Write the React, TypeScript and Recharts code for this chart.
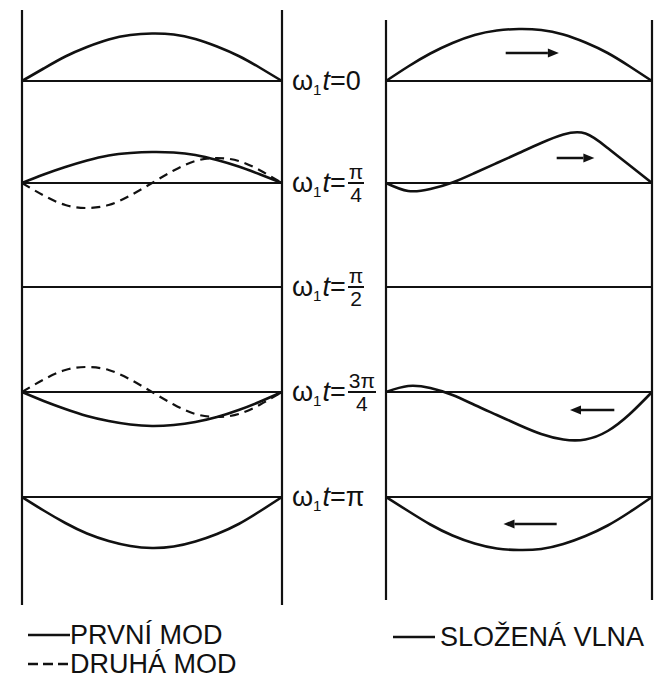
import { LineChart, Line, XAxis, YAxis, ReferenceLine } from 'recharts'

// positions along the string (0 .. 12 twelfths)
const stations = [0, 1, 2, 3, 4, 5, 6, 7, 8, 9, 10, 11, 12]

// phase labels w1 t = top / bottom
const phaseTop = ['0', 'π', 'π', '3π', 'π']
const phaseBottom = ['', '4', '2', '4', '']

// first mode (solid, left)
const first0 = [0, 0.25, 0.49, 0.68, 0.83, 0.92, 0.95, 0.93, 0.84, 0.69, 0.5, 0.26, 0]
const first1 = [0, 0.17, 0.32, 0.45, 0.55, 0.6, 0.62, 0.61, 0.56, 0.46, 0.33, 0.17, 0]
const first3 = [0, -0.18, -0.34, -0.48, -0.58, -0.65, -0.68, -0.66, -0.6, -0.5, -0.36, -0.19, 0]
const first4 = [0, -0.27, -0.52, -0.73, -0.88, -0.98, -1.02, -0.99, -0.89, -0.74, -0.54, -0.28, 0]

// second mode (dashed, left)
const second1 = [0, -0.25, -0.44, -0.5, -0.44, -0.25, 0, 0.25, 0.44, 0.5, 0.44, 0.25, 0]
const second3 = [0, 0.25, 0.44, 0.5, 0.44, 0.25, 0, -0.25, -0.44, -0.5, -0.44, -0.25, 0]

// composite wave (right)
const sum0 = [0, 0.29, 0.55, 0.76, 0.92, 1.01, 1.04, 1.02, 0.93, 0.77, 0.56, 0.29, 0]
const sum1 = [0, -0.16, -0.12, 0.01, 0.2, 0.4, 0.6, 0.8, 0.97, 0.99, 0.7, 0.35, 0]
const sum3 = [0, 0.12, 0.08, -0.06, -0.26, -0.46, -0.66, -0.84, -0.95, -0.95, -0.78, -0.44, 0]
const sum4 = [0, -0.28, -0.55, -0.77, -0.93, -1.03, -1.06, -1.04, -0.94, -0.78, -0.57, -0.3, 0]

// direction arrows on the composite wave: row, from, to (stations), height
const arrowRow = [0, 1, 3, 4]
const arrowFrom = [5.4, 7.7, 10.3, 7.7]
const arrowTo = [7.8, 9.4, 8.3, 5.3]
const arrowLevel = [0.56, 0.5, -0.36, -0.54]

// layout
const UNIT = 50
const rowBaseY = [81, 183, 287, 392, 497]
const INK = '#111'

const leftData = stations.map((s, i) => ({
  s, m0: first0[i], m1: first1[i], m3: first3[i], m4: first4[i], d1: second1[i], d3: second3[i]
}))
const rightData = stations.map((s, i) => ({
  s, c0: sum0[i], c1: sum1[i], c3: sum3[i], c4: sum4[i]
}))

const Arrow = (props: any) => {
  const { x1, y1, x2, y2 } = props
  const dir = Math.sign(x2 - x1)
  const back = x2 - dir * 11
  return (
    <g>
      <line x1={x1} y1={y1} x2={back} y2={y2} stroke={INK} strokeWidth={2.5} />
      <polygon points={`${x2},${y2} ${back},${y2 - 4.5} ${back},${y2 + 4.5}`} fill={INK} />
    </g>
  )
}

function Panel({ left, top, width, height, data, solid, dashed, arrows }: any) {
  const pad = 4
  const axes = rowBaseY.map((b, i) => ({
    id: 'r' + i,
    domain: [-(top + height - b) / UNIT, (b - top) / UNIT]
  }))
  return (
    <div style={{ position: 'absolute', left: left - pad, top }}>
      <LineChart width={width + pad * 2} height={height} data={data}
        margin={{ top: 0, right: pad, left: pad, bottom: 0 }}>
        <XAxis dataKey="s" type="number" domain={[0, 12]} hide />
        {axes.map(a => (
          <YAxis key={a.id} yAxisId={a.id} domain={a.domain} hide allowDataOverflow />
        ))}
        <ReferenceLine yAxisId="r0" x={0} stroke={INK} strokeWidth={2.2} />
        <ReferenceLine yAxisId="r0" x={12} stroke={INK} strokeWidth={2.2} />
        {axes.map(a => (
          <ReferenceLine key={'b' + a.id} yAxisId={a.id} y={0} stroke={INK} strokeWidth={2.2} />
        ))}
        {solid.map((k: string) => (
          <Line key={k} yAxisId={'r' + k.slice(1)} dataKey={k} type="natural" dot={false}
            stroke={INK} strokeWidth={2.6} isAnimationActive={false} />
        ))}
        {dashed.map((k: string) => (
          <Line key={k} yAxisId={'r' + k.slice(1)} dataKey={k} type="natural" dot={false}
            stroke={INK} strokeWidth={2.2} strokeDasharray="9 6" isAnimationActive={false} />
        ))}
        {arrows && arrowRow.map((r, i) => (
          <ReferenceLine key={'a' + i} yAxisId={'r' + r} ifOverflow="visible"
            segment={[{ x: arrowFrom[i], y: arrowLevel[i] }, { x: arrowTo[i], y: arrowLevel[i] }]}
            shape={Arrow} />
        ))}
      </LineChart>
    </div>
  )
}

function Phase({ i }: { i: number }) {
  const frac = phaseBottom[i] !== ''
  return (
    <div style={{
      position: 'absolute', left: 292, top: rowBaseY[i] - 18, height: 36,
      display: 'flex', alignItems: 'center', fontSize: 27, color: INK,
      fontFamily: '"Liberation Sans", Arial, sans-serif', whiteSpace: 'nowrap'
    }}>
      <span>ω</span>
      <span style={{ fontSize: 15, position: 'relative', top: 8 }}>1</span>
      <span style={{ fontStyle: 'italic', marginLeft: 1 }}>t</span>
      <span>=</span>
      {frac ? (
        <span style={{ display: 'inline-flex', flexDirection: 'column', alignItems: 'center',
          fontSize: 21, lineHeight: '21px', marginLeft: 2 }}>
          <span style={{ borderBottom: '2px solid ' + INK, padding: '0 1px' }}>{phaseTop[i]}</span>
          <span>{phaseBottom[i]}</span>
        </span>
      ) : <span>{phaseTop[i]}</span>}
    </div>
  )
}

function Swatch({ x, y, dashed }: { x: number, y: number, dashed?: boolean }) {
  return (
    <svg style={{ position: 'absolute', left: x, top: y - 3 }} width={42} height={6}>
      <line x1={0} y1={3} x2={42} y2={3} stroke={INK} strokeWidth={2.4}
        strokeDasharray={dashed ? '10 5' : undefined} />
    </svg>
  )
}

const legendText = {
  position: 'absolute' as const, fontSize: 27, color: INK, lineHeight: '28px',
  fontFamily: '"Liberation Sans", Arial, sans-serif', whiteSpace: 'nowrap' as const
}

export default function App() {
  return (
    <div style={{ position: 'absolute', left: 0, top: 0, width: 665, height: 678, background: '#fff', overflow: 'hidden' }}>
      <Panel left={22} top={10} width={260} height={595} data={leftData}
        solid={['m0', 'm1', 'm3', 'm4']} dashed={['d1', 'd3']} />
      <Panel left={386} top={20} width={266} height={580} data={rightData}
        solid={['c0', 'c1', 'c3', 'c4']} dashed={[]} arrows />
      {rowBaseY.map((_, i) => <Phase key={i} i={i} />)}
      <Swatch x={28} y={635} />
      <div style={{ ...legendText, left: 70, top: 621 }}>PRVNÍ MOD</div>
      <Swatch x={28} y={664} dashed />
      <div style={{ ...legendText, left: 70, top: 650 }}>DRUHÁ MOD</div>
      <Swatch x={393} y={637} />
      <div style={{ ...legendText, left: 440, top: 623 }}>SLOŽENÁ VLNA</div>
    </div>
  )
}
